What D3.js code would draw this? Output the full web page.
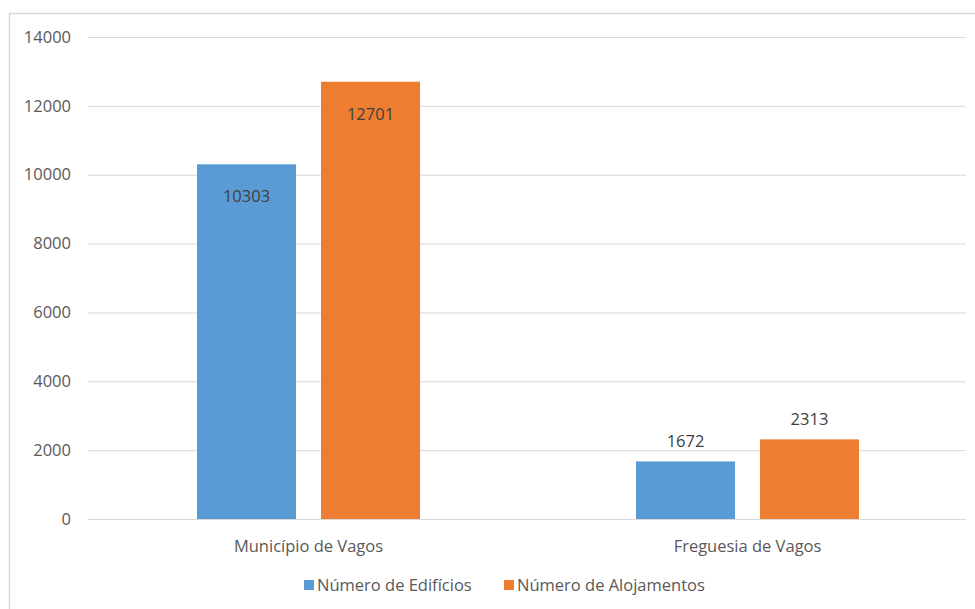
<!DOCTYPE html>
<html><head><meta charset="utf-8">
<script src="https://cdn.jsdelivr.net/npm/d3@7"></script>
<style>body{margin:0;background:#fff;}svg{display:block;}</style>
</head><body>
<script>
const categories = ["Município de Vagos", "Freguesia de Vagos"];
const seriesNames = ["Número de Edifícios", "Número de Alojamentos"];
const edificios = [10303, 1672];
const alojamentos = [12701, 2313];
const yTicks = [0, 2000, 4000, 6000, 8000, 10000, 12000, 14000];
const colors = ["#5b9bd5", "#ed7d31"];

const W = 975, H = 609;
const FS = "16.5px";
const svg = d3.select("body").append("svg").attr("width", W).attr("height", H)
  .style("font-family", "'Open Sans', 'Noto Sans', sans-serif");

svg.append("rect").attr("x", 9.5).attr("y", 13.5).attr("width", W + 10).attr("height", H + 10)
  .attr("fill", "#fff").attr("stroke", "#d9d9d9").attr("stroke-width", 1.5);

const pLeft = 88, pRight = 966, pTop = 37, pBottom = 519;
const x = d3.scaleBand().domain(categories).range([pLeft + 1, pRight + 1]);
const xs = d3.scaleBand().domain(seriesNames).range([0, x.bandwidth()]).paddingInner(0.2016).paddingOuter(0.871);
const y = d3.scaleLinear().domain([0, 14000]).range([pBottom, pTop]);

const grid = svg.append("g");
grid.selectAll("line").data(yTicks).join("line")
  .attr("x1", pLeft).attr("x2", pRight)
  .attr("y1", d => y(d) + 0.5).attr("y2", d => y(d) + 0.5)
  .attr("stroke", "#d9d9d9").attr("stroke-width", 1);

const yAxis = d3.axisLeft(y).tickValues(yTicks).tickSize(0).tickPadding(0).tickFormat(d3.format("d"));
const gy = svg.append("g").attr("transform", `translate(${pLeft - 17},0)`).call(yAxis);
gy.select(".domain").remove();
gy.selectAll("text").attr("fill", "#595959").style("font-size", FS).style("font-family", "'Open Sans', sans-serif");

const xAxis = d3.axisBottom(x).tickSize(0).tickPadding(0);
const gx = svg.append("g").attr("transform", `translate(0,${pBottom + 21})`).call(xAxis);
gx.select(".domain").remove();
gx.selectAll("text").attr("fill", "#595959").style("font-size", FS).style("font-family", "'Open Sans', sans-serif");

const data = [];
categories.forEach((c, i) => {
  data.push({cat: c, s: seriesNames[0], v: edificios[i], col: colors[0], inside: i === 0});
  data.push({cat: c, s: seriesNames[1], v: alojamentos[i], col: colors[1], inside: i === 0});
});

svg.append("g").selectAll("rect").data(data).join("rect")
  .attr("x", d => x(d.cat) + xs(d.s))
  .attr("width", xs.bandwidth())
  .attr("y", d => y(d.v))
  .attr("height", d => y(0) - y(d.v))
  .attr("fill", d => d.col);

svg.append("g").selectAll("text").data(data).join("text")
  .attr("x", d => x(d.cat) + xs(d.s) + xs.bandwidth() / 2)
  .attr("y", d => d.inside ? y(d.v) + 38 : y(d.v) - 14)
  .attr("text-anchor", "middle")
  .attr("fill", "#404040")
  .style("font-size", FS)
  .text(d => d.v);

const legend = svg.append("g").attr("transform", "translate(0,585)");
const legItems = [{name: seriesNames[0], col: colors[0], x: 304}, {name: seriesNames[1], col: colors[1], x: 504}];
legItems.forEach(it => {
  legend.append("rect").attr("x", it.x).attr("y", -5).attr("width", 10).attr("height", 10).attr("fill", it.col);
  legend.append("text").attr("x", it.x + 13).attr("y", 0).attr("dy", "0.35em")
    .attr("fill", "#595959").style("font-size", FS).text(it.name);
});
</script>
</body></html>
